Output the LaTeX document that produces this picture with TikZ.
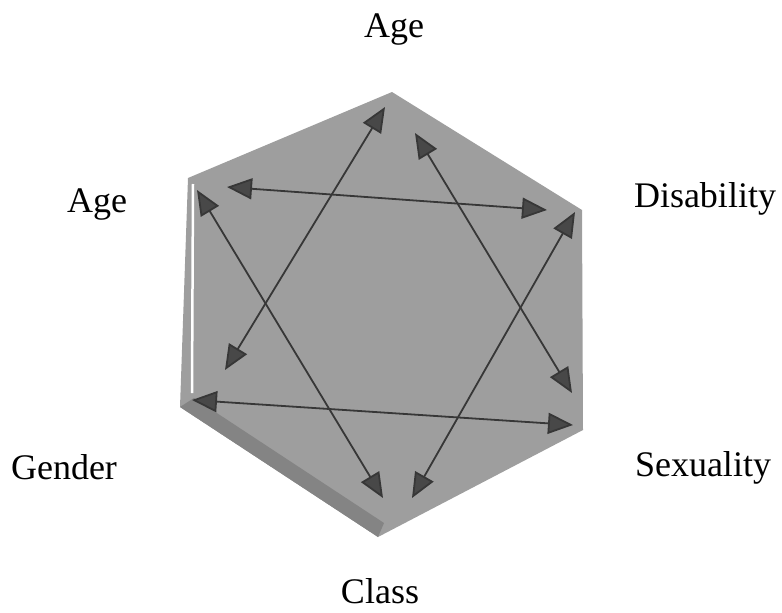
\documentclass[tikz,border=0pt]{standalone}
\usepackage{fontspec}
\setmainfont{Liberation Serif}
\usetikzlibrary{arrows.meta}

\definecolor{faceGray}{RGB}{158,158,158}
\definecolor{shadeGray}{RGB}{132,132,132}
\definecolor{lineGray}{RGB}{55,55,55}
\definecolor{tipGray}{RGB}{72,72,72}

\begin{document}
\begin{tikzpicture}[
  x=1pt, y=-1pt,
  axis label/.style={font=\fontsize{36}{40}\selectfont, anchor=base, inner sep=0pt},
  link/.style={draw=lineGray, line width=1.8pt,
    {Triangle[length=25pt,width=21pt,fill=tipGray]}-{Triangle[length=25pt,width=21pt,fill=tipGray]}}
]
\useasboundingbox (0,0) rectangle (782,613);

% hexagon corners
\coordinate (top) at (392,92);
\coordinate (ur) at (582,210);
\coordinate (lr) at (583,430);
\coordinate (bot) at (378,537);
\coordinate (ll) at (180,407);
\coordinate (ul) at (188,178);
\coordinate (bot in) at (384,523);
\coordinate (ll in) at (194,398);

\fill[faceGray] (top) -- (ur) -- (lr) -- (bot) -- (ll) -- (ul) -- cycle;
\fill[shadeGray] (ll) -- (bot) -- (bot in) -- (ll in) -- cycle;
\draw[white, line width=2.5pt] (193,184) -- (192,393);

% arrow ends
\coordinate (a1) at (385,107);
\coordinate (a2) at (225,370);
\coordinate (b1) at (415,133);
\coordinate (b2) at (572,393);
\coordinate (c1) at (227,187);
\coordinate (c2) at (547,210);
\coordinate (d1) at (192,400);
\coordinate (d2) at (573,425);
\coordinate (e1) at (197,190);
\coordinate (e2) at (383,498);
\coordinate (f1) at (575,212);
\coordinate (f2) at (412,498);

\draw[link] (a1) -- (a2);
\draw[link] (b1) -- (b2);
\draw[link] (c1) -- (c2);
\draw[link] (d1) -- (d2);
\draw[link] (e1) -- (e2);
\draw[link] (f1) -- (f2);

% labels
\node[axis label] (age top) at (394,37) {Age};
\node[axis label] (age left) at (97,212) {Age};
\node[axis label] (disability) at (705,207) {Disability};
\node[axis label] (gender) at (64,479) {Gender};
\node[axis label] (sexuality) at (703,476) {Sexuality};
\node[axis label] (class) at (380,603) {Class};
\end{tikzpicture}
\end{document}
